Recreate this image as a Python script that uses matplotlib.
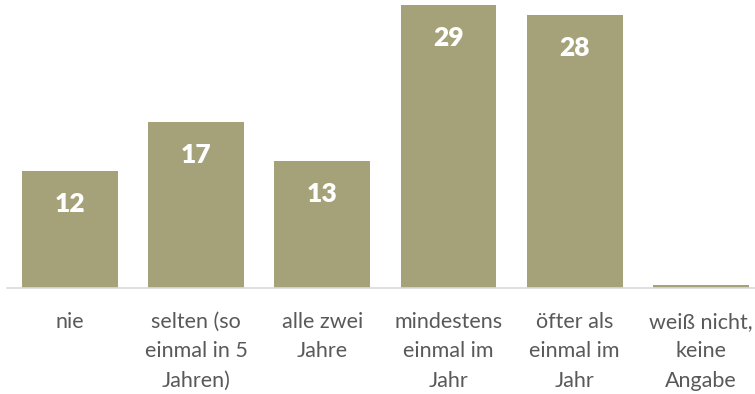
import matplotlib.pyplot as plt

categories = [
    "nie",
    "selten (so\neinmal in 5\nJahren)",
    "alle zwei\nJahre",
    "mindestens\neinmal im\nJahr",
    "öfter als\neinmal im\nJahr",
    "weiß nicht,\nkeine\nAngabe",
]
values = [12, 17, 13, 29, 28, 0.3]
labels = ["12", "17", "13", "29", "28", ""]

bar_color = "#A5A27A"
text_color = "#595959"

plt.rcParams["font.family"] = ["Lato", "DejaVu Sans"]

fig = plt.figure(figsize=(7.55, 3.94), dpi=100)
ax = fig.add_axes([7 / 755, 106 / 394, 748 / 755, 288 / 394])

x = list(range(len(values)))
bars = ax.bar(x, values, width=0.76, color=bar_color, zorder=2)

# value labels inside the top of each bar
for b, lab in zip(bars, labels):
    if lab:
        ax.annotate(lab, (b.get_x() + b.get_width() / 2, b.get_height()),
                    xytext=(0, -33), textcoords="offset pixels",
                    ha="center", va="center", color="white",
                    fontsize=19, fontweight="heavy")

ax.set_xlim(-0.5, 5.43)
ax.set_ylim(0, 29.5)

for s in ["top", "right", "left"]:
    ax.spines[s].set_visible(False)
ax.spines["bottom"].set_color("#D9D9D9")
ax.spines["bottom"].set_linewidth(1.2)

ax.set_yticks([])
ax.set_xticks(x)
ax.set_xticklabels(categories, color=text_color, fontsize=15.5, linespacing=1.6)
ax.tick_params(axis="x", length=0, pad=17)

fig.savefig("out.png", dpi=100)
